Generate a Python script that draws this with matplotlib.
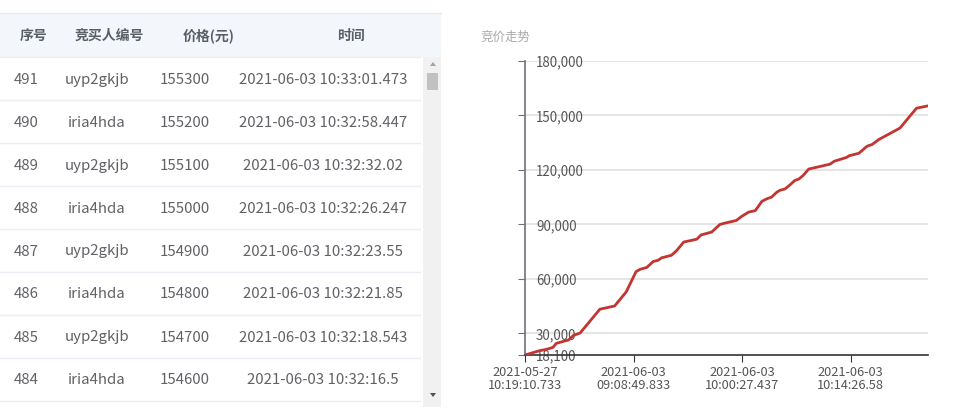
import matplotlib
matplotlib.use("Agg")
import matplotlib.pyplot as plt
from matplotlib.patches import Rectangle, Polygon

plt.rcParams['font.family'] = ['Noto Sans CJK SC', 'DejaVu Sans']

# ---------------- data ----------------
headers = ["序号", "竞买人编号", "价格(元)", "时间"]
seq_nos = [491, 490, 489, 488, 487, 486, 485, 484]
bidders = ["uyp2gkjb", "iria4hda", "uyp2gkjb", "iria4hda",
           "uyp2gkjb", "iria4hda", "uyp2gkjb", "iria4hda"]
prices = [155300, 155200, 155100, 155000, 154900, 154800, 154700, 154600]
times = ["2021-06-03 10:33:01.473", "2021-06-03 10:32:58.447",
         "2021-06-03 10:32:32.02", "2021-06-03 10:32:26.247",
         "2021-06-03 10:32:23.55", "2021-06-03 10:32:21.85",
         "2021-06-03 10:32:18.543", "2021-06-03 10:32:16.5"]

chart_title = "竞价走势"
bid_index = [0, 18, 26, 34, 38, 53, 59, 67, 91, 109, 123, 135, 140, 148,
             156, 162, 166, 178, 184, 193, 209, 214, 227, 237, 241, 257,
             263, 272, 280, 288, 294, 300, 306, 310, 316, 322, 328, 333,
             338, 345, 371, 376, 391, 394, 406, 416, 422, 430, 456, 476, 490]
bid_price = [18100, 20500, 21200, 22300, 24500, 26400, 28900, 30200, 43300,
             45100, 52800, 64000, 65300, 66300, 69600, 70300, 71600, 73000,
             75400, 80300, 81900, 84200, 85800, 90000, 90500, 92200, 94300,
             96800, 97600, 102700, 104100, 105100, 107700, 108800, 109500,
             111700, 114200, 115000, 116900, 120500, 123200, 124800, 126900,
             127800, 129200, 133100, 134000, 136700, 143100, 154000, 155300]
x_tick_index = [0, 132, 264, 396]
x_tick_labels = ["2021-05-27\n10:19:10.733", "2021-06-03\n09:08:49.833",
                 "2021-06-03\n10:00:27.437", "2021-06-03\n10:14:26.58"]
y_ticks = [18100, 30000, 60000, 90000, 120000, 150000, 180000]
y_min, y_max = 18100, 180000

# ---------------- figure ----------------
W, H = 962, 412
fig = plt.figure(figsize=(W / 100, H / 100), dpi=100)
fig.patch.set_facecolor("white")

# table drawn in pixel coordinates
tab = fig.add_axes([0, 0, 1, 1])
tab.set_xlim(0, W)
tab.set_ylim(H, 0)
tab.axis("off")

header_top, header_bot = 13, 57
row_h = 43
line_c = "#ebeef5"
text_c = "#606266"

tab.add_patch(Rectangle((0, header_top), 441, header_bot - header_top,
                        facecolor="#f3f6fa", edgecolor="none"))
tab.plot([0, 441], [header_top, header_top], color="#e4e8ee", lw=1)
tab.plot([0, 420], [header_bot, header_bot], color=line_c, lw=1)

header_x = [34, 109, 209, 351]
for hx, h in zip(header_x, headers):
    tab.text(hx, 35.5, h, ha="center", va="center", fontsize=10,
             fontweight="bold", color="#5a5e66")

col_x = [26, 97, 185, 323]
for i in range(len(seq_nos)):
    top = header_bot + i * row_h
    yc = top + row_h / 2 + 1
    vals = [str(seq_nos[i]), bidders[i], str(prices[i]), times[i]]
    for cx, v in zip(col_x, vals):
        tab.text(cx, yc, v, ha="center", va="center", fontsize=10.8,
                 color=text_c)
    tab.plot([0, 420], [top + row_h, top + row_h], color=line_c, lw=1)

# scrollbar
tab.add_patch(Rectangle((423, header_bot), 18, 350, facecolor="#f1f1f1",
                        edgecolor="none"))
tab.add_patch(Rectangle((427, 73), 11, 17, facecolor="#c1c1c1",
                        edgecolor="none"))
tab.add_patch(Polygon([[430, 66], [436, 66], [433, 62]], closed=True,
                      facecolor="#a3a3a3", edgecolor="none"))
tab.add_patch(Polygon([[430, 393], [436, 393], [433, 397]], closed=True,
                      facecolor="#505050", edgecolor="none"))

# chart title
tab.text(480, 37.5, chart_title, ha="left", va="center", fontsize=9,
         color="#aaaaaa")

# ---------------- line chart ----------------
x0, x1 = 525, 928
yb, yt = 355, 61
ax = fig.add_axes([x0 / W, (H - yb) / H, (x1 - x0) / W, (yb - yt) / H])
ax.set_facecolor("none")
ax.set_xlim(0, 490)
ax.set_ylim(y_min, y_max)

for yv in y_ticks[1:]:
    ax.axhline(yv, color="#e0e0e0", lw=1.2, zorder=1)

ax.plot(bid_index, bid_price, color="#c23531", lw=2, zorder=3,
        solid_joinstyle="round")

for s in ["top", "right"]:
    ax.spines[s].set_visible(False)
ax.spines["left"].set_color("#6e7079")
ax.spines["bottom"].set_color("#333333")
ax.spines["left"].set_linewidth(1.2)
ax.spines["bottom"].set_linewidth(1.2)

ax.set_yticks(y_ticks)
ax.set_yticklabels([f"{v:,}" for v in y_ticks])
ax.tick_params(axis="y", direction="out", length=5, color="#6e7079",
               labelcolor="#555555", labelsize=9.6, pad=-13)
for lab in ax.get_yticklabels():
    lab.set_horizontalalignment("left")

ax.set_xticks(x_tick_index)
ax.set_xticklabels(x_tick_labels, linespacing=1.0)
ax.tick_params(axis="x", direction="out", length=5, color="#333333",
               labelcolor="#555555", labelsize=9.2, pad=3)

fig.savefig("out.png", dpi=100, facecolor="white")
